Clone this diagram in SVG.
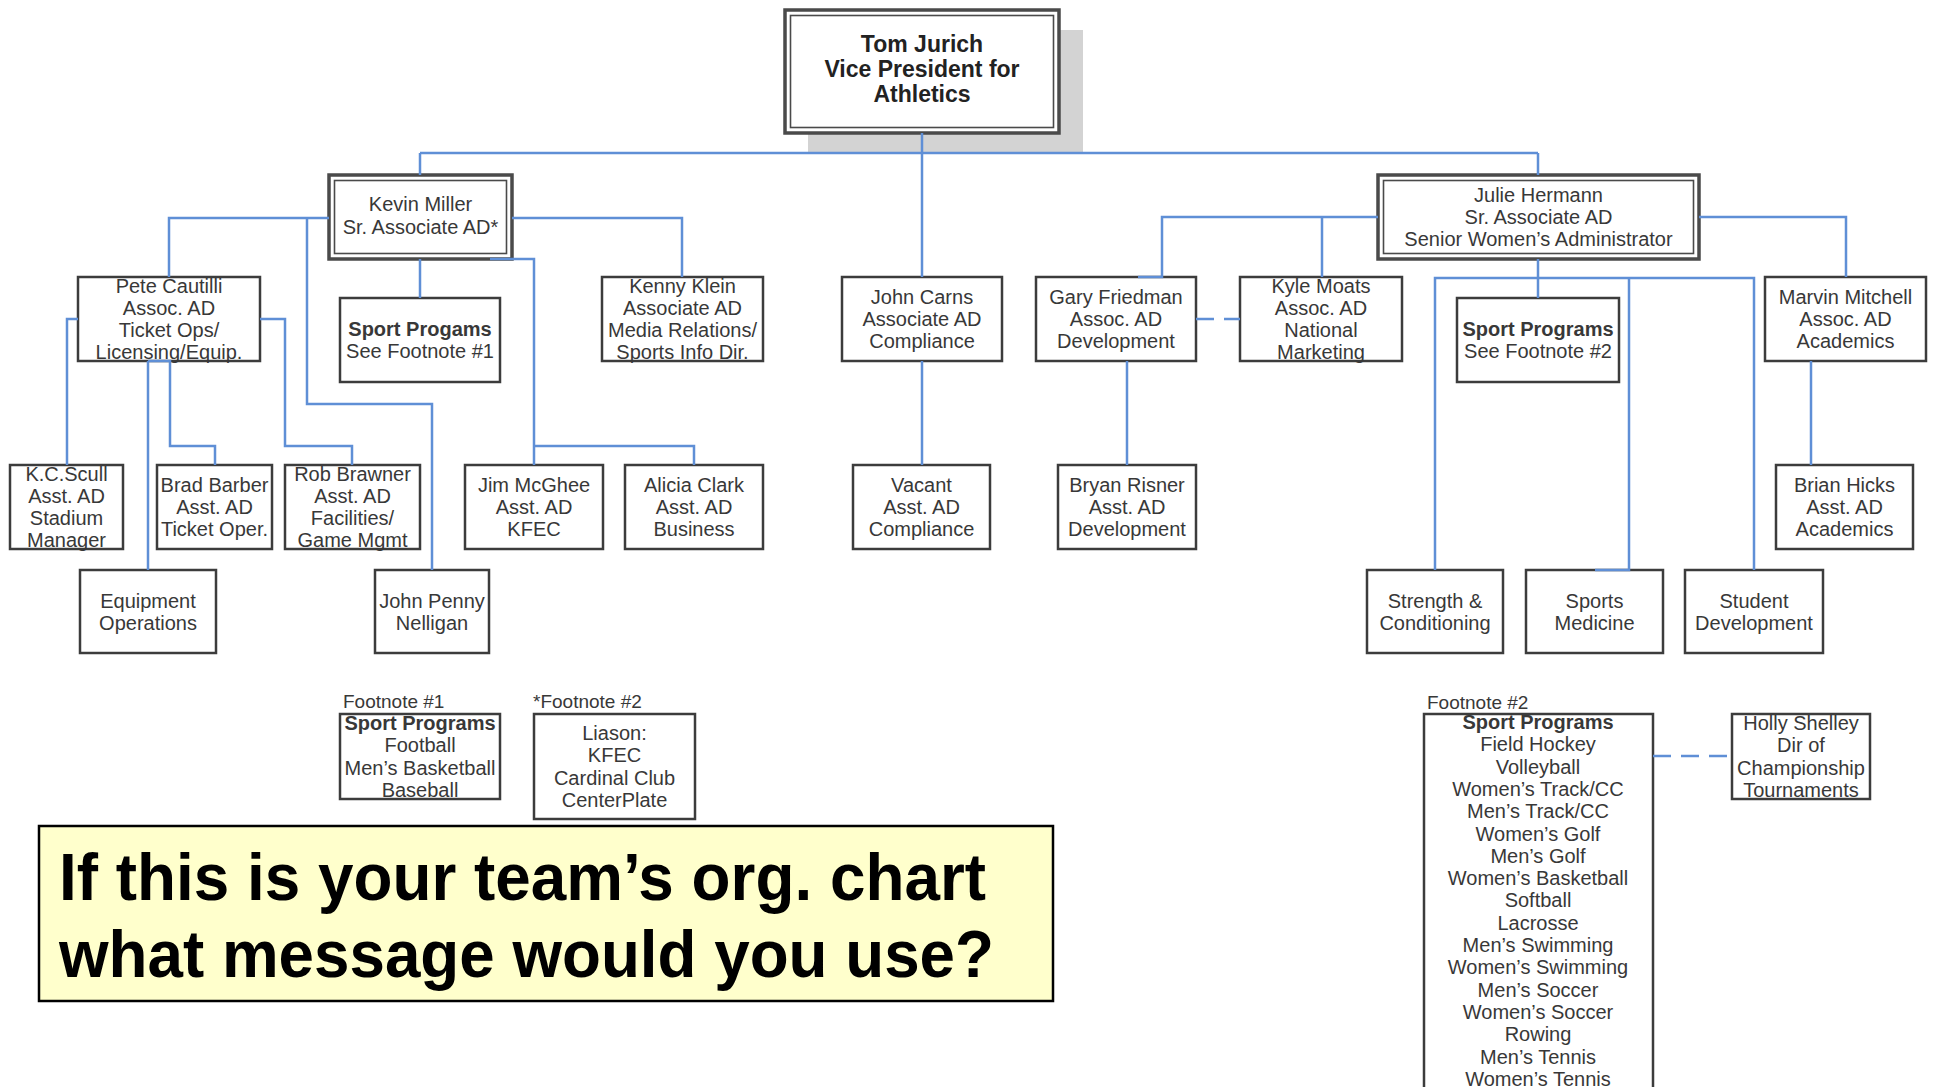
<svg xmlns="http://www.w3.org/2000/svg" width="1933" height="1087" viewBox="0 0 1933 1087">
<style>
.bg{fill:#fff}
.box{fill:#fff;stroke:#3c3c3c;stroke-width:2.5}
.dout{fill:#fff;stroke:#4a4a4a;stroke-width:3.5}
.din{fill:none;stroke:#4a4a4a;stroke-width:1.6}
.t{font-family:"Liberation Sans",Arial,sans-serif;font-size:20px;fill:#383838;text-anchor:middle}
.l{font-family:"Liberation Sans",Arial,sans-serif;font-size:19px;fill:#383838;text-anchor:start}
.b{font-weight:bold}
.top{font-family:"Liberation Sans",Arial,sans-serif;font-size:23px;font-weight:bold;fill:#222;text-anchor:middle}
.conn{fill:none;stroke:#5f8fd6;stroke-width:2.5}
.dash{stroke-dasharray:18 10}
.call{font-family:"Liberation Sans",Arial,sans-serif;font-size:66px;font-weight:bold;fill:#000}
</style>
<rect class="bg" x="0" y="0" width="1933" height="1087"/>

<g id="nodes">
<g id="tom">
<rect x="808" y="30" width="275" height="124" fill="#d3d3d3"/>
<rect class="dout" x="785" y="10" width="274" height="123"/>
<rect class="din" x="790.5" y="15.5" width="263" height="112"/>
<text class="top" x="922" y="51.5">Tom Jurich</text>
<text class="top" x="922" y="77">Vice President for</text>
<text class="top" x="922" y="102">Athletics</text>
</g>
<g id="kevin">
<rect class="dout" x="329" y="175" width="183" height="84"/>
<rect class="din" x="334.5" y="180.5" width="172" height="73"/>
<text class="t" x="420.5" y="211">Kevin Miller</text>
<text class="t" x="420.5" y="234">Sr. Associate AD*</text>
</g>
<g id="julie">
<rect class="dout" x="1378" y="175" width="321" height="84"/>
<rect class="din" x="1383.5" y="180.5" width="310" height="73"/>
<text class="t" x="1538.5" y="202">Julie Hermann</text>
<text class="t" x="1538.5" y="224">Sr. Associate AD</text>
<text class="t" x="1538.5" y="246">Senior Women’s Administrator</text>
</g>
<g id="pete">
<rect class="box" x="78" y="277" width="182" height="84"/>
<text class="t" x="169" y="293">Pete Cautilli</text>
<text class="t" x="169" y="315">Assoc. AD</text>
<text class="t" x="169" y="337">Ticket Ops/</text>
<text class="t" x="169" y="359">Licensing/Equip.</text>
</g>
<g id="sport-fn1">
<rect class="box" x="340" y="298" width="160" height="84"/>
<text class="t b" x="420" y="336">Sport Progams</text>
<text class="t" x="420" y="358">See Footnote #1</text>
</g>
<g id="kenny">
<rect class="box" x="602" y="277" width="161" height="84"/>
<text class="t" x="682.5" y="293">Kenny Klein</text>
<text class="t" x="682.5" y="315">Associate AD</text>
<text class="t" x="682.5" y="337">Media Relations/</text>
<text class="t" x="682.5" y="359">Sports Info Dir.</text>
</g>
<g id="carns">
<rect class="box" x="842" y="277" width="160" height="84"/>
<text class="t" x="922" y="304">John Carns</text>
<text class="t" x="922" y="326">Associate AD</text>
<text class="t" x="922" y="348">Compliance</text>
</g>
<g id="gary">
<rect class="box" x="1036" y="277" width="160" height="84"/>
<text class="t" x="1116" y="304">Gary Friedman</text>
<text class="t" x="1116" y="326">Assoc. AD</text>
<text class="t" x="1116" y="348">Development</text>
</g>
<g id="kyle">
<rect class="box" x="1240" y="277" width="162" height="84"/>
<text class="t" x="1321" y="293">Kyle Moats</text>
<text class="t" x="1321" y="315">Assoc. AD</text>
<text class="t" x="1321" y="337">National</text>
<text class="t" x="1321" y="359">Marketing</text>
</g>
<g id="sport-fn2">
<rect class="box" x="1457" y="298" width="162" height="84"/>
<text class="t b" x="1538" y="336">Sport Programs</text>
<text class="t" x="1538" y="358">See Footnote #2</text>
</g>
<g id="marvin">
<rect class="box" x="1765" y="277" width="161" height="84"/>
<text class="t" x="1845.5" y="304">Marvin Mitchell</text>
<text class="t" x="1845.5" y="326">Assoc. AD</text>
<text class="t" x="1845.5" y="348">Academics</text>
</g>
<g id="kc">
<rect class="box" x="10" y="465" width="113" height="84"/>
<text class="t" x="66.5" y="481">K.C.Scull</text>
<text class="t" x="66.5" y="503">Asst. AD</text>
<text class="t" x="66.5" y="525">Stadium</text>
<text class="t" x="66.5" y="547">Manager</text>
</g>
<g id="brad">
<rect class="box" x="157" y="465" width="115" height="84"/>
<text class="t" x="214.5" y="492">Brad Barber</text>
<text class="t" x="214.5" y="514">Asst. AD</text>
<text class="t" x="214.5" y="536">Ticket Oper.</text>
</g>
<g id="rob">
<rect class="box" x="285" y="465" width="135" height="84"/>
<text class="t" x="352.5" y="481">Rob Brawner</text>
<text class="t" x="352.5" y="503">Asst. AD</text>
<text class="t" x="352.5" y="525">Facilities/</text>
<text class="t" x="352.5" y="547">Game Mgmt</text>
</g>
<g id="jim">
<rect class="box" x="465" y="465" width="138" height="84"/>
<text class="t" x="534" y="492">Jim McGhee</text>
<text class="t" x="534" y="514">Asst. AD</text>
<text class="t" x="534" y="536">KFEC</text>
</g>
<g id="alicia">
<rect class="box" x="625" y="465" width="138" height="84"/>
<text class="t" x="694" y="492">Alicia Clark</text>
<text class="t" x="694" y="514">Asst. AD</text>
<text class="t" x="694" y="536">Business</text>
</g>
<g id="vacant">
<rect class="box" x="853" y="465" width="137" height="84"/>
<text class="t" x="921.5" y="492">Vacant</text>
<text class="t" x="921.5" y="514">Asst. AD</text>
<text class="t" x="921.5" y="536">Compliance</text>
</g>
<g id="bryan">
<rect class="box" x="1058" y="465" width="138" height="84"/>
<text class="t" x="1127" y="492">Bryan Risner</text>
<text class="t" x="1127" y="514">Asst. AD</text>
<text class="t" x="1127" y="536">Development</text>
</g>
<g id="brian">
<rect class="box" x="1776" y="465" width="137" height="84"/>
<text class="t" x="1844.5" y="492">Brian Hicks</text>
<text class="t" x="1844.5" y="514">Asst. AD</text>
<text class="t" x="1844.5" y="536">Academics</text>
</g>
<g id="equipment">
<rect class="box" x="80" y="570" width="136" height="83"/>
<text class="t" x="148" y="607.5">Equipment</text>
<text class="t" x="148" y="629.5">Operations</text>
</g>
<g id="penny">
<rect class="box" x="375" y="570" width="114" height="83"/>
<text class="t" x="432" y="607.5">John Penny</text>
<text class="t" x="432" y="629.5">Nelligan</text>
</g>
<g id="strength">
<rect class="box" x="1367" y="570" width="136" height="83"/>
<text class="t" x="1435" y="607.5">Strength &amp;</text>
<text class="t" x="1435" y="629.5">Conditioning</text>
</g>
<g id="sportsmed">
<rect class="box" x="1526" y="570" width="137" height="83"/>
<text class="t" x="1594.5" y="607.5">Sports</text>
<text class="t" x="1594.5" y="629.5">Medicine</text>
</g>
<g id="studentdev">
<rect class="box" x="1685" y="570" width="138" height="83"/>
<text class="t" x="1754" y="607.5">Student</text>
<text class="t" x="1754" y="629.5">Development</text>
</g>
<g id="footnote1">
<text class="l" x="343" y="708">Footnote #1</text>
<rect class="box" x="340" y="714" width="160" height="85"/>
<text class="t b" x="420" y="730">Sport Programs</text>
<text class="t" x="420" y="752">Football</text>
<text class="t" x="420" y="775">Men’s Basketball</text>
<text class="t" x="420" y="797">Baseball</text>
</g>
<g id="footnote2-liaison">
<text class="l" x="533" y="708">*Footnote #2</text>
<rect class="box" x="534" y="714" width="161" height="105"/>
<text class="t" x="614.5" y="740">Liason:</text>
<text class="t" x="614.5" y="762">KFEC</text>
<text class="t" x="614.5" y="785">Cardinal Club</text>
<text class="t" x="614.5" y="807">CenterPlate</text>
</g>
<g id="footnote2-programs">
<text class="l" x="1427" y="709">Footnote #2</text>
<rect class="box" x="1424" y="714" width="229" height="400"/>
<text class="t b" x="1538" y="729">Sport Programs</text>
<text class="t" x="1538" y="751.3">Field Hockey</text>
<text class="t" x="1538" y="773.6">Volleyball</text>
<text class="t" x="1538" y="795.9">Women’s Track/CC</text>
<text class="t" x="1538" y="818.2">Men’s Track/CC</text>
<text class="t" x="1538" y="840.5">Women’s Golf</text>
<text class="t" x="1538" y="862.8">Men’s Golf</text>
<text class="t" x="1538" y="885.1">Women’s Basketball</text>
<text class="t" x="1538" y="907.4">Softball</text>
<text class="t" x="1538" y="929.7">Lacrosse</text>
<text class="t" x="1538" y="952">Men’s Swimming</text>
<text class="t" x="1538" y="974.3">Women’s Swimming</text>
<text class="t" x="1538" y="996.6">Men’s Soccer</text>
<text class="t" x="1538" y="1018.9">Women’s Soccer</text>
<text class="t" x="1538" y="1041.2">Rowing</text>
<text class="t" x="1538" y="1063.5">Men’s Tennis</text>
<text class="t" x="1538" y="1085.8">Women’s Tennis</text>
</g>
<g id="holly">
<rect class="box" x="1732" y="714" width="138" height="85"/>
<text class="t" x="1801" y="730">Holly Shelley</text>
<text class="t" x="1801" y="752">Dir of</text>
<text class="t" x="1801" y="775">Championship</text>
<text class="t" x="1801" y="797">Tournaments</text>
</g>
<g id="callout">
<rect x="39" y="826" width="1014" height="175" fill="#ffffcc" stroke="#000" stroke-width="2.5"/>
<text class="call" x="59" y="900" textLength="927" lengthAdjust="spacingAndGlyphs">If this is your team’s org. chart</text>
<text class="call" x="59" y="977" textLength="935" lengthAdjust="spacingAndGlyphs">what message would you use?</text>
</g>
</g>

<g id="connectors">
<path class="conn" d="M420 153 H1538"/>
<path class="conn" d="M922 133 V277"/>
<path class="conn" d="M420 153 V175"/>
<path class="conn" d="M1538 153 V175"/>
<path class="conn" d="M329 218 H169 V277"/>
<path class="conn" d="M307 218 V404 H432 V570"/>
<path class="conn" d="M420 259 V298"/>
<path class="conn" d="M512 218 H682 V277"/>
<path class="conn" d="M490 259 H534 V465"/>
<path class="conn" d="M534 446 H694 V465"/>
<path class="conn" d="M78 319 H67 V465"/>
<path class="conn" d="M260 319 H285 V446 H352 V465"/>
<path class="conn" d="M148 361 V570"/>
<path class="conn" d="M148 361 H170 V446 H215 V465"/>
<path class="conn" d="M922 361 V465"/>
<path class="conn" d="M1378 217 H1162 V277 H1138"/>
<path class="conn" d="M1322 217 V277"/>
<path class="conn" d="M1127 361 V465"/>
<path class="conn dash" d="M1196 319 H1240"/>
<path class="conn" d="M1699 217 H1846 V277"/>
<path class="conn" d="M1538 259 V298"/>
<path class="conn" d="M1435 570 V278 H1754 V570"/>
<path class="conn" d="M1629 278 V570 H1595"/>
<path class="conn" d="M1811 361 V465"/>
<path class="conn dash" d="M1653 756 H1732"/>
</g>
</svg>
